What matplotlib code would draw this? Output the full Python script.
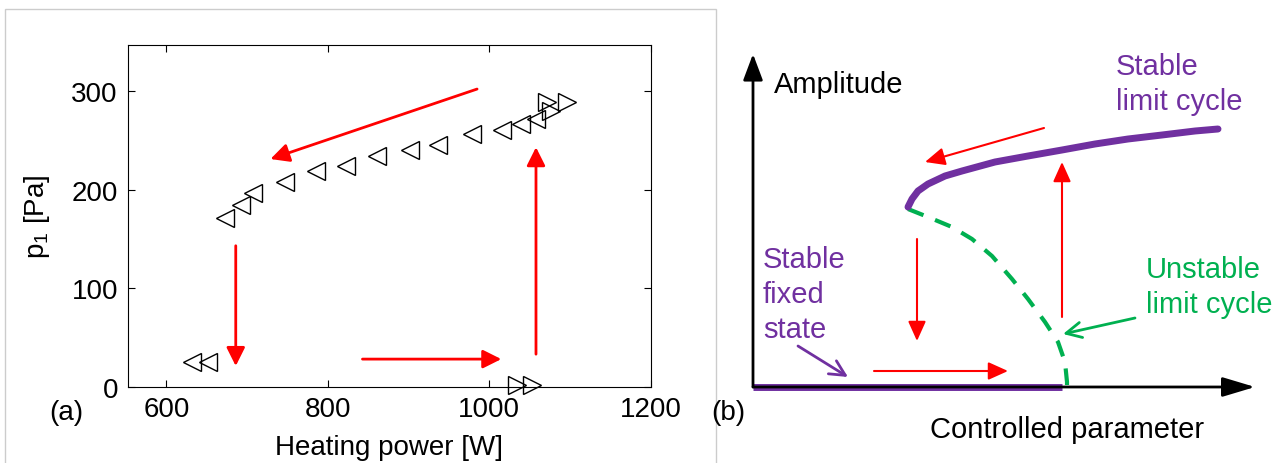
import matplotlib
matplotlib.use('Agg')
import matplotlib.pyplot as plt
import matplotlib.patches as patches

plt.rcParams['font.family'] = ['Liberation Sans', 'DejaVu Sans']
plt.rcParams['mathtext.fontset'] = 'custom'
plt.rcParams['mathtext.rm'] = 'Liberation Sans'

# (a) 측정 데이터: 출력 감소(<) / 출력 증가(>)
power_down = [1058, 1039, 1016, 979, 937, 902, 861, 823, 785, 747, 707, 692, 673, 651, 632]
p1_down = [272, 267, 260, 256, 245, 240, 234, 224, 219, 208, 197, 184, 171, 25, 25]
power_up = [1034, 1053, 1076, 1072, 1097]
p1_up = [2, 2, 280, 289, 289]

# (a) 화살표 (시작 -> 끝), 데이터 좌표
arrows_a = [((985, 302), (729, 231)),
            ((686, 143), (686, 21)),
            ((843, 28), (1015, 28)),
            ((1058, 33), (1058, 243))]

x_ticks = [600, 800, 1000, 1200]
y_ticks = [0, 100, 200, 300]

# (b) 개념도: 안정 한계 사이클 / 불안정 한계 사이클 / 안정 고정 상태
stable_lc_x = [155, 159, 165, 175, 192, 209, 242, 275, 309, 342, 375, 409, 442, 465]
stable_lc_y = [180, 188, 196, 203, 211, 216, 225, 231, 237, 243, 248, 252, 256, 258]
unstable_lc_x = [155, 175, 199, 219, 239, 259, 275, 292, 305, 312, 314, 314]
unstable_lc_y = [178, 170, 160, 148, 131, 108, 88, 65, 45, 25, 5, 0]
fixed_x = [0, 309]
fixed_y = [0, 0]

arrows_b = [((291, 259), (172, 225)),
            ((164, 148), (164, 46)),
            ((121, 16), (255, 16)),
            ((309, 70), (309, 225))]

PURPLE = '#7030A0'
GREEN = '#00B050'
RED = '#FF0000'

fig = plt.figure(figsize=(12.74, 4.64), dpi=100)

# 왼쪽 패널 회색 테두리
fig.patches.append(patches.Rectangle((5 / 1274, -0.05), 711 / 1274, 1.05 - 10 / 464,
                                     transform=fig.transFigure, fill=False,
                                     edgecolor='#cccccc', lw=1))

# ---- (a) ----
ax = fig.add_axes([127.6 / 1274, 76.3 / 464, 523 / 1274, 342 / 464])
ax.plot(power_down, p1_down, ls='none', marker='<', ms=13, mfc='none', mec='black', mew=1)
ax.plot(power_up, p1_up, ls='none', marker='>', ms=13, mfc='none', mec='black', mew=1, clip_on=False)
for start, end in arrows_a:
    ax.annotate('', xy=end, xytext=start,
                arrowprops=dict(arrowstyle='-|>,head_length=0.4,head_width=0.2',
                                color=RED, lw=2, mutation_scale=28,
                                shrinkA=0, shrinkB=0))
ax.set_xlim(552, 1200)
ax.set_ylim(0, 347)
ax.set_xticks(x_ticks)
ax.set_yticks(y_ticks)
ax.tick_params(direction='in', top=True, right=True, length=5, labelsize=20, pad=7)
ax.set_xlabel('Heating power [W]', fontsize=20, labelpad=8)
ax.set_ylabel(r'p$_{\mathregular{1}}$ [Pa]', fontsize=20, labelpad=14)
fig.text(66 / 1274, 1 - 413 / 464, '(a)', fontsize=20, ha='center', va='center')

# ---- (b) ----
bx = fig.add_axes([700 / 1274, 0, 574 / 1274, 1])
bx.set_xlim(-53, 521)
bx.set_ylim(-76, 388)
bx.axis('off')

# 축 화살표
bx.annotate('', xy=(0, 333), xytext=(0, 0),
            arrowprops=dict(arrowstyle='-|>,head_length=0.4,head_width=0.15',
                            color='black', lw=2, mutation_scale=40, shrinkA=0, shrinkB=0))
bx.annotate('', xy=(502, 0), xytext=(0, 0),
            arrowprops=dict(arrowstyle='-|>,head_length=0.5,head_width=0.15',
                            color='black', lw=2, mutation_scale=40, shrinkA=0, shrinkB=0))

bx.plot(fixed_x, fixed_y, color=PURPLE, lw=5, solid_capstyle='butt')
bx.plot(unstable_lc_x, unstable_lc_y, color=GREEN, lw=3, ls=(0, (4, 3)))
bx.plot(stable_lc_x, stable_lc_y, color=PURPLE, lw=5, solid_capstyle='round',
        solid_joinstyle='round')

for start, end in arrows_b:
    bx.annotate('', xy=end, xytext=start,
                arrowprops=dict(arrowstyle='-|>,head_length=0.4,head_width=0.18',
                                color=RED, lw=1.5, mutation_scale=30,
                                shrinkA=0, shrinkB=0))

bx.annotate('', xy=(95, 10), xytext=(45, 41),
            arrowprops=dict(arrowstyle='->,head_length=0.5,head_width=0.25',
                            color=PURPLE, lw=2, mutation_scale=22, shrinkA=0, shrinkB=0))
bx.annotate('', xy=(310, 53), xytext=(382, 69),
            arrowprops=dict(arrowstyle='->,head_length=0.5,head_width=0.25',
                            color=GREEN, lw=2, mutation_scale=22, shrinkA=0, shrinkB=0))

fs = 21
bx.text(21, 388 - 93, 'Amplitude', fontsize=fs, color='black', va='baseline')
bx.text(177, 388 - 438, 'Controlled parameter', fontsize=fs, color='black', va='baseline')
bx.text(363, 388 - 75, 'Stable', fontsize=fs, color=PURPLE, va='baseline')
bx.text(363, 388 - 110, 'limit cycle', fontsize=fs, color=PURPLE, va='baseline')
bx.text(10, 388 - 268, 'Stable', fontsize=fs, color=PURPLE, va='baseline')
bx.text(10, 388 - 303, 'fixed', fontsize=fs, color=PURPLE, va='baseline')
bx.text(10, 388 - 338, 'state', fontsize=fs, color=PURPLE, va='baseline')
bx.text(393, 388 - 278, 'Unstable', fontsize=fs, color=GREEN, va='baseline', clip_on=False)
bx.text(393, 388 - 313, 'limit cycle', fontsize=fs, color=GREEN, va='baseline', clip_on=False)
fig.text(728 / 1274, 1 - 413 / 464, '(b)', fontsize=20, ha='center', va='center')

fig.savefig('out.png', dpi=100)
